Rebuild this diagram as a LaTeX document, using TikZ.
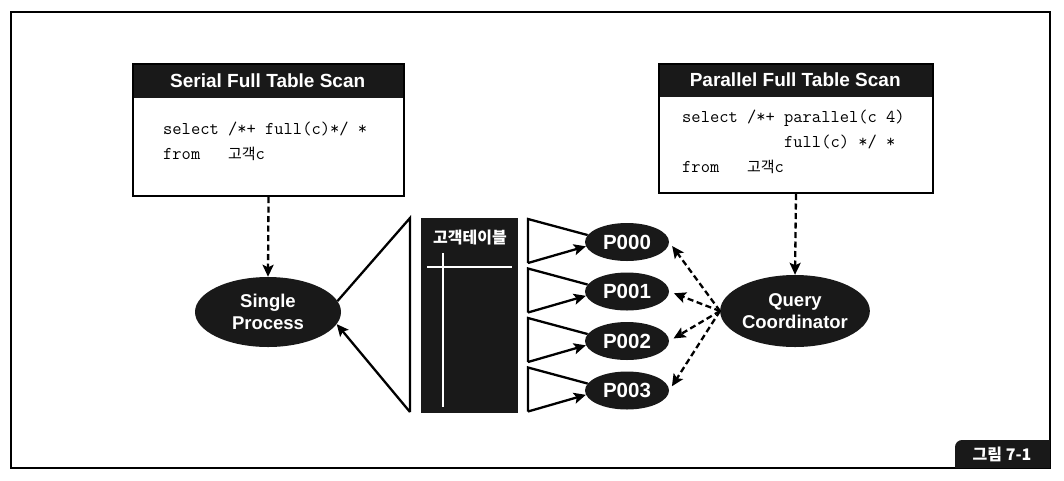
\documentclass[tikz,border=0pt]{standalone}
\usepackage{fontspec}
\setmainfont{Liberation Sans}
\newfontfamily\kr{Noto Sans CJK KR}
\usetikzlibrary{arrows.meta,shapes.geometric}
\definecolor{ink}{gray}{0.1}
\begin{document}
\begin{tikzpicture}[x=1pt,y=-1pt,
  tip/.style={-{Stealth[length=12pt,width=11pt,inset=2.5pt]}},
  conn/.style={line width=2.3pt, tip},
  dconn/.style={conn, dash pattern=on 6pt off 3.5pt},
  tri/.style={line width=2.3pt, line join=miter},
  proc/.style={ellipse, fill=ink, text=white, align=center, inner sep=0pt,
    font=\bfseries\fontsize{18.5}{22}\selectfont},
  pnode/.style={proc, minimum width=84pt, minimum height=38pt,
    font=\bfseries\fontsize{20.5}{22}\selectfont},
  headbar/.style={fill=ink, text=white, anchor=north west, inner sep=0pt,
    font=\bfseries\fontsize{19}{19}\selectfont},
  codebox/.style={draw, line width=2pt, anchor=north west, inner sep=0pt},
  code/.style={anchor=base west, inner sep=0pt, font=\ttfamily\fontsize{18}{25}\selectfont},
  hang/.style={font=\kr\fontsize{15}{15}\selectfont}
]
\fill[white] (0,0) rectangle (1064,480);
\useasboundingbox (0,0) rectangle (1064,480);

% outer frame and figure tab
\draw[line width=1.3pt] (11,12) rectangle (1050,468);
\fill[ink] (955,468) [rounded corners=7pt] -- (955,440) [sharp corners] -- (1050,440) -- (1050,468) -- cycle;
\node[text=white, font=\kr\bfseries\fontsize{16}{16}\selectfont] (fig) at (1002,454) {그림 7-1};

% serial box
\node[headbar, minimum width=271pt, minimum height=35pt] (shead) at (132,63) {Serial Full Table Scan};
\node[codebox, minimum width=271pt, minimum height=132pt] (sbox) at (132,63) {};
\node[code] (s1) at (163,134) {select /*+ full(c)*/ *};
\node[code] (s2) at (163,159) {from\ \ \ {\kr\fontsize{15}{15}\selectfont 고객}c};

% parallel box
\node[headbar, minimum width=274pt, minimum height=34pt] (phead) at (658,63) {Parallel Full Table Scan};
\node[codebox, minimum width=274pt, minimum height=129pt] (pbox) at (658,63) {};
\node[code] (q1) at (682,122) {select /*+ parallel(c 4)};
\node[code] (q2) at (682,147) {\phantom{select /*+\ }full(c) */ *};
\node[code] (q3) at (682,172) {from\ \ \ {\kr\fontsize{15}{15}\selectfont 고객}c};

% processes
\node[proc, minimum width=146pt, minimum height=70pt] (sp) at (268,312) {Single\\Process};
\node[proc, minimum width=146pt, minimum height=72pt] (qc) at (795,311) {Query\\Coordinator};
\foreach \i in {0,1,2,3}{
  \node[pnode] (p\i) at (627,{242+49.5*\i}) {P00\i};
}

% table
\node[fill=ink, minimum width=97pt, minimum height=195pt, anchor=north west, inner sep=0pt] (tbl) at (421,218) {};
\node[text=white, font=\kr\bfseries\fontsize{16}{16}\selectfont] (tbltxt) at (470,238) {고객테이블};
\draw[white, line width=2.5pt] (427,267) -- (512,267);
\draw[white, line width=2.5pt] (443,253) -- (443,407);

% left triangle (single process)
\coordinate (lt) at (410,218);
\coordinate (lb) at (410,412);
\draw[tri] (sp.9) -- (lt) -- (lb);
\draw[conn] (lb) -- (sp.-10);

% right triangles (parallel slaves)
\foreach \i in {0,1,2,3}{
  \coordinate (rt\i) at (528,{219+49.5*\i});
  \coordinate (rb\i) at (528,{263+49.5*\i});
  \draw[tri] (p\i.170) -- (rt\i) -- (rb\i);
  \draw[conn] (rb\i) -- (p\i.186);
  \draw[dconn, shorten >=5pt] (qc.west) -- (p\i.east);
}

% hint arrows
\draw[dconn] (sbox.south) -- (sp.north);
\draw[dconn] (pbox.south) -- (qc.north);
\end{tikzpicture}
\end{document}
